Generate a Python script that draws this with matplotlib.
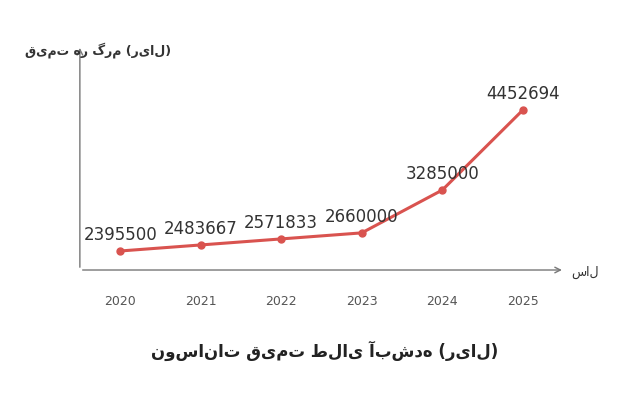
import matplotlib
matplotlib.use("Agg")
import matplotlib.pyplot as plt

years = [2020, 2021, 2022, 2023, 2024, 2025]
prices = [2395500, 2483667, 2571833, 2660000, 3285000, 4452694]
title = "نوسانات قیمت طلای آبشده (ریال)"
ylabel = "قیمت هر گرم (ریال)"
xlabel = "سال"

plt.rcParams['font.family'] = ['DejaVu Sans']
fig = plt.figure(figsize=(6.24, 4.03), dpi=100)
ax = fig.add_axes([0.128, 0.33, 0.777, 0.558])
ax.plot(years, prices, color='#d9534f', lw=2.2, marker='o', ms=5)
ax.set_xlim(2019.5, 2025.52)
ax.set_ylim(2118000, 5400000)
for s in ax.spines.values():
    s.set_visible(False)
ax.set_yticks([])
ax.set_xticks(years)
ax.tick_params(axis='x', length=0, pad=18, labelsize=9, colors='#555555')
ax.annotate('', xy=(1.0, 0), xytext=(0, 0), xycoords='axes fraction',
            arrowprops=dict(arrowstyle='->', color='#777777', lw=1))
ax.annotate('', xy=(0, 1.0), xytext=(0, 0), xycoords='axes fraction',
            arrowprops=dict(arrowstyle='->', color='#777777', lw=1))
for x, y in zip(years, prices):
    ax.annotate(str(y), (x, y), xytext=(0, 5), textcoords='offset points',
                ha='center', va='bottom', fontsize=12, color='#333333')
fig.text(0.04, 0.875, ylabel, fontsize=9, fontweight='bold', color='#333333', ha='left', va='center')
fig.text(0.915, 0.325, xlabel, fontsize=9, color='#333333', ha='left', va='center')
fig.text(0.52, 0.13, title, fontsize=12, fontweight='bold', color='#222222', ha='center', va='center')
fig.savefig('out.png', dpi=100)
